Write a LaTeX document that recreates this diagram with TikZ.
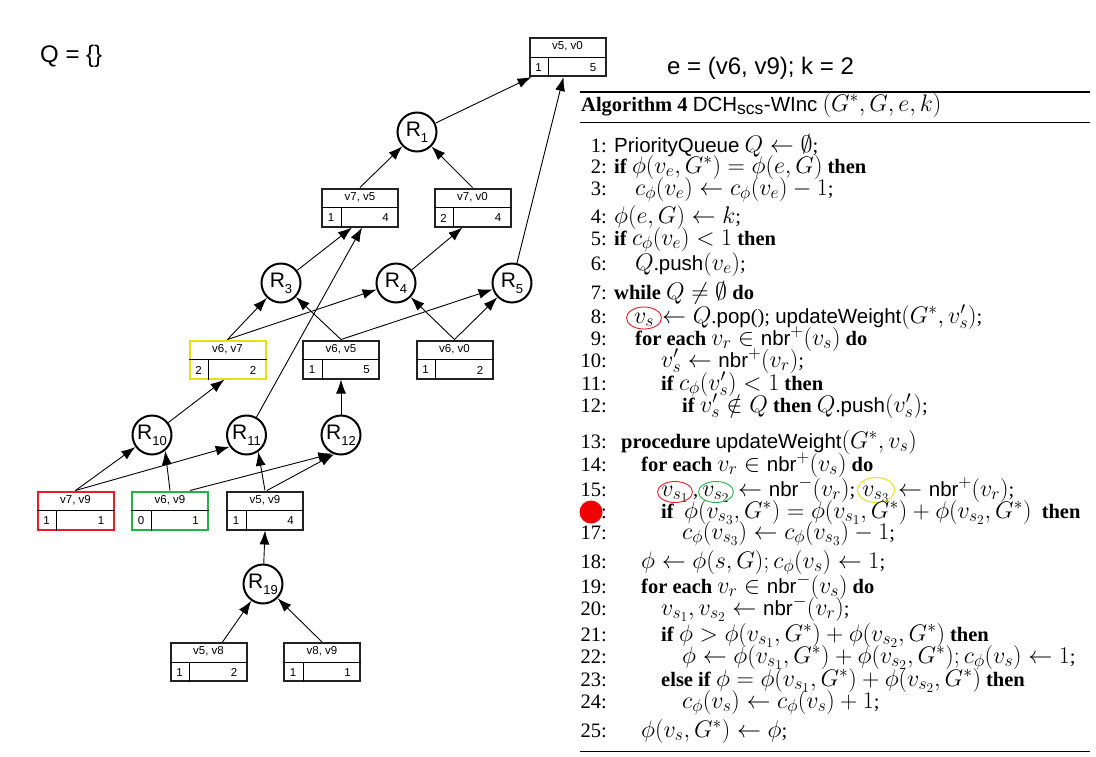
\RequirePackage{fix-cm}
\documentclass[tikz,border=0pt]{standalone}
\usepackage[no-math]{fontspec}
\setmainfont{Liberation Serif}
\setsansfont{Liberation Sans}
\usepackage{amsmath}
\usetikzlibrary{arrows.meta}
\definecolor{boxgray}{RGB}{34,34,34}
\definecolor{byellow}{RGB}{230,225,20}
\definecolor{bred}{RGB}{230,30,40}
\definecolor{bgreen}{RGB}{40,175,70}
\definecolor{dotred}{RGB}{240,0,0}
\DeclareMathSizes{20.5}{24}{17.5}{13.5}
\newcommand\algfont{\fontsize{20.5}{22}\selectfont}
\newcommand\Rlab[1]{{\fontsize{21}{21}\selectfont R}\raisebox{-6pt}{\fontsize{13}{13}\selectfont #1}}
\tikzset{
 recbox/.style={draw=boxgray, line width=2pt, minimum width=76pt, minimum height=38pt, inner sep=0pt, fill=white},
 rcirc/.style={circle, draw=black, line width=2pt, minimum size=39pt, inner sep=0pt, fill=white, font=\sffamily},
 arr/.style={-{Latex[length=14pt,width=10pt]}, line width=0.9pt},
 boxtxt/.style={font=\sffamily\fontsize{11.5}{12}\selectfont, inner sep=0pt},
 alg/.style={anchor=base west, inner sep=0pt, font=\algfont},
 num/.style={anchor=base east, inner sep=0pt, font=\algfont},
 big/.style={font=\sffamily\fontsize{24}{24}\selectfont, inner sep=0pt, anchor=west},
 ring/.style={line width=0.9pt},
}
\newcommand\recnode[7]{%
 \node[recbox, draw=#7] (#1) at (#2,#3) {};
 \draw[line width=1pt] (#1.west) -- (#1.east);
 \draw[line width=1pt] ([xshift=20pt]#1.south west) -- ([xshift=20pt]#1.west);
 \node[boxtxt] (#1-t) at ([yshift=-9.5pt]#1.north) {#4};
 \node[boxtxt] (#1-l) at ([xshift=10pt,yshift=9.5pt]#1.south west) {#5};
 \node[boxtxt, anchor=east] (#1-r) at ([xshift=-10pt,yshift=9.5pt]#1.south east) {#6};
}
\begin{document}
\begin{tikzpicture}[x=1pt,y=-1pt]
\fill[white] (0,0) rectangle (1096,756);
\useasboundingbox (0,0) rectangle (1096,756);

\node[big] (Q) at (40,56) {Q = \{\}};
\node[big] (E) at (667,68) {e = (v6, v9); k = 2};

% records
\recnode{v50}{567.5}{57}{v5, v0}{1}{5}{boxgray}
\recnode{v75}{360}{207.5}{v7, v5}{1}{4}{boxgray}
\recnode{v70}{472.5}{207.5}{v7, v0}{2}{4}{boxgray}
\recnode{v67}{227.5}{359.5}{v6, v7}{2}{2}{byellow}
\recnode{v65}{341}{359.5}{v6, v5}{1}{5}{boxgray}
\recnode{v60}{454.5}{359.5}{v6, v0}{1}{2}{boxgray}
\recnode{v79}{75.5}{510.5}{v7, v9}{1}{1}{bred}
\recnode{v69}{170}{510.5}{v6, v9}{0}{1}{bgreen}
\recnode{v59}{265}{510.5}{v5, v9}{1}{4}{boxgray}
\recnode{v58}{208.5}{662}{v5, v8}{1}{2}{boxgray}
\recnode{v89}{322}{662}{v8, v9}{1}{1}{boxgray}

% circles
\node[rcirc] (R1) at (417,132) {\Rlab{1}};
\node[rcirc] (R3) at (281,283) {\Rlab{3}};
\node[rcirc] (R4) at (396,283) {\Rlab{4}};
\node[rcirc] (R5) at (512,283) {\Rlab{5}};
\node[rcirc] (R10) at (152,435) {\Rlab{10}};
\node[rcirc] (R11) at (246.5,435) {\Rlab{11}};
\node[rcirc] (R12) at (341,435) {\Rlab{12}};
\node[rcirc] (R19) at (263,584) {\Rlab{19}};

% edges
\draw[arr] (R1) -- ([xshift=3pt]v50.south west);
\draw[arr] (R5) -- ([xshift=-4pt]v50.south);
\draw[arr] (v75.north) -- (R1);
\draw[arr] (v70.north) -- (R1);
\draw[arr] (R3) -- ([xshift=-8pt]v75.south);
\draw[arr] (R11) -- ([xshift=2pt]v75.south);
\draw[arr] (R4) -- ([xshift=-10pt]v70.south);
\draw[arr] (v67.north) -- (R3);
\draw[arr] (v67.north) -- (R4);
\draw[arr] (v65.north) -- (R3);
\draw[arr] (v65.north) -- (R5);
\draw[arr] (v60.north) -- (R4);
\draw[arr] (v60.north) -- (R5);
\draw[arr] (R10) -- ([xshift=-3pt]v67.south);
\draw[arr] (R12) -- (v65.south);
\draw[arr] (v79.north) -- (R10);
\draw[arr] (v79.north) -- (R11.-145);
\draw[arr] (v69.north) -- (R10.-50);
\draw[arr] ([xshift=20pt]v69.north) -- (R12.-115);
\draw[arr] (v59.north) -- (R11.-55);
\draw[arr] ([xshift=2pt]v59.north) -- (R12.-110);
\draw[arr] (R19) -- (v59.south);
\draw[arr] ([xshift=14pt]v58.north) -- (R19);
\draw[arr] (v89.north) -- (R19);

% algorithm
\draw[line width=1.6pt] (580,92) -- (1090,92);
\draw[line width=0.8pt] (580,122) -- (1090,122);
\draw[line width=0.8pt] (580,751) -- (1090,751);
\node[alg] (cap) at (581,111) {\textbf{Algorithm 4} \textsf{DCH\textsubscript{scs}-WInc} $(G^*, G, e, k)$};

\node[num] (n1) at (607,152) {1:};
\node[alg] (l1) at (614,152) {\textsf{PriorityQueue} $Q \leftarrow \emptyset$;};
\node[num] (n2) at (607,173) {2:};
\node[alg] (l2) at (614,173) {\textbf{if} $\phi(v_e, G^*) = \phi(e, G)$ \textbf{then}};
\node[num] (n3) at (607,195) {3:};
\node[alg] (l3) at (635,195) {$c_\phi(v_e) \leftarrow c_\phi(v_e) - 1$;};
\node[num] (n4) at (607,223) {4:};
\node[alg] (l4) at (614,223) {$\phi(e, G) \leftarrow k$;};
\node[num] (n5) at (607,245) {5:};
\node[alg] (l5) at (614,245) {\textbf{if} $c_\phi(v_e) < 1$ \textbf{then}};
\node[num] (n6) at (607,270) {6:};
\node[alg] (l6) at (635,270) {$Q$.\textsf{push}$(v_e)$;};
\node[num] (n7) at (607,299) {7:};
\node[alg] (l7) at (614,299) {\textbf{while} $Q \neq \emptyset$ \textbf{do}};
\node[num] (n8) at (607,323) {8:};
\node[alg, anchor=base] (l8a) at (644,323) {$v_s$};
\node[alg] (l8b) at (662,323) {$\leftarrow Q$.\textsf{pop}(); \textsf{updateWeight}$(G^*, v'_s)$;};
\draw[ring, bred] (644,318) ellipse [x radius=17.5pt, y radius=11pt];
\node[num] (n9) at (607,345) {9:};
\node[alg] (l9) at (635,345) {\textbf{for each} $v_r \in \textsf{nbr}^+(v_s)$ \textbf{do}};
\node[num] (n10) at (607,367) {10:};
\node[alg] (l10) at (661,367) {$v'_s \leftarrow \textsf{nbr}^+(v_r)$;};
\node[num] (n11) at (607,390) {11:};
\node[alg] (l11) at (661,390) {\textbf{if} $c_\phi(v'_s) < 1$ \textbf{then}};
\node[num] (n12) at (607,412) {12:};
\node[alg] (l12) at (682,412) {\textbf{if} $v'_s \notin Q$ \textbf{then} $Q$.\textsf{push}$(v'_s)$;};

\node[num] (n13) at (607,448) {13:};
\node[alg] (l13) at (621,448) {\textbf{procedure} \textsf{updateWeight}$(G^*, v_s)$};
\node[num] (n14) at (607,471) {14:};
\node[alg] (l14) at (641,471) {\textbf{for each} $v_r \in \textsf{nbr}^+(v_s)$ \textbf{do}};
\node[num] (n15) at (607,496) {15:};
\node[alg, anchor=base] (l15a) at (675,496) {$v_{s_1}$};
\node[alg] (l15b) at (693,496) {,};
\node[alg, anchor=base] (l15c) at (716,496) {$v_{s_2}$};
\node[alg] (l15d) at (738,496) {$\leftarrow \textsf{nbr}^-(v_r)$;};
\node[alg, anchor=base] (l15e) at (876,496) {$v_{s_3}$};
\node[alg] (l15f) at (898,496) {$\leftarrow \textsf{nbr}^+(v_r)$;};
\draw[ring, bred] (675,492) ellipse [x radius=17.5pt, y radius=10.5pt];
\draw[ring, bgreen] (716,492) ellipse [x radius=17.5pt, y radius=10.5pt];
\draw[ring, byellow] (876,490) ellipse [x radius=18.5pt, y radius=12.5pt];
\node[num] (n16) at (607,518) {16:};
\node[alg] (l16) at (661,518) {\textbf{if}\ \ $\phi(v_{s_3}, G^*) = \phi(v_{s_1}, G^*) + \phi(v_{s_2}, G^*)$\ \ \textbf{then}};
\node[circle, fill=dotred, minimum size=23pt, inner sep=0pt] (dot) at (591,512) {};
\node[num] (n17) at (607,539) {17:};
\node[alg] (l17) at (682,539) {$c_\phi(v_{s_3}) \leftarrow c_\phi(v_{s_3}) - 1$;};
\node[num] (n18) at (607,568) {18:};
\node[alg] (l18) at (641,568) {$\phi \leftarrow \phi(s, G); c_\phi(v_s) \leftarrow 1$;};
\node[num] (n19) at (607,593) {19:};
\node[alg] (l19) at (641,593) {\textbf{for each} $v_r \in \textsf{nbr}^-(v_s)$ \textbf{do}};
\node[num] (n20) at (607,615) {20:};
\node[alg] (l20) at (661,615) {$v_{s_1}, v_{s_2} \leftarrow \textsf{nbr}^-(v_r)$;};
\node[num] (n21) at (607,641) {21:};
\node[alg] (l21) at (661,641) {\textbf{if} $\phi > \phi(v_{s_1}, G^*) + \phi(v_{s_2}, G^*)$ \textbf{then}};
\node[num] (n22) at (607,663) {22:};
\node[alg] (l22) at (682,663) {$\phi \leftarrow \phi(v_{s_1}, G^*) + \phi(v_{s_2}, G^*); c_\phi(v_s) \leftarrow 1$;};
\node[num] (n23) at (607,686) {23:};
\node[alg] (l23) at (661,686) {\textbf{else if} $\phi = \phi(v_{s_1}, G^*) + \phi(v_{s_2}, G^*)$ \textbf{then}};
\node[num] (n24) at (607,708) {24:};
\node[alg] (l24) at (682,708) {$c_\phi(v_s) \leftarrow c_\phi(v_s) + 1$;};
\node[num] (n25) at (607,737) {25:};
\node[alg] (l25) at (641,737) {$\phi(v_s, G^*) \leftarrow \phi$;};
\end{tikzpicture}
\end{document}
